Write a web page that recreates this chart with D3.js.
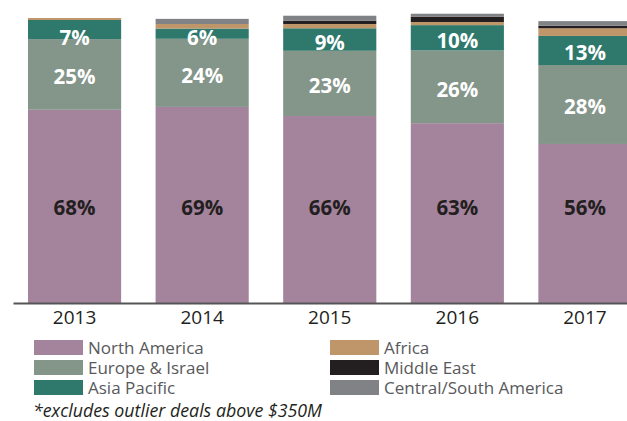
<!DOCTYPE html>
<html>
<head>
<meta charset="utf-8">
<script src="https://cdn.jsdelivr.net/npm/d3@7"></script>
<style>
  body { margin: 0; background: #fff; }
  svg { font-family: "Open Sans", sans-serif; display: block; }
</style>
</head>
<body>
<svg id="chart" width="627" height="421"></svg>
<script>
// years on the x axis
const years = ["2013", "2014", "2015", "2016", "2017"];

// share of deals by region (%)
const northAmerica = [67.8, 68.8, 65.6, 63.1, 55.8];
const europeIsrael = [24.8, 23.9, 22.9, 25.5, 27.7];
const asiaPacific = [6.7, 3.6, 7.9, 8.9, 10.2];
const africa = [0.7, 1.6, 1.5, 1.1, 2.7];
const middleEast = [0, 0, 1.1, 1.8, 0.9];
const centralSouthAmerica = [0, 1.8, 1.8, 1.1, 1.6];

// printed labels
const naLabels = ["68%", "69%", "66%", "63%", "56%"];
const euLabels = ["25%", "24%", "23%", "26%", "28%"];
const apLabels = ["7%", "6%", "9%", "10%", "13%"];

const regions = ["North America", "Europe & Israel", "Asia Pacific", "Africa", "Middle East", "Central/South America"];
const colors = ["#a4839c", "#84958a", "#2f786c", "#bf956a", "#231f20", "#818285"];

const svg = d3.select("#chart");
const baseY = 303;

const table = years.map((yr, i) => ({
  year: yr,
  "North America": northAmerica[i],
  "Europe & Israel": europeIsrael[i],
  "Asia Pacific": asiaPacific[i],
  "Africa": africa[i],
  "Middle East": middleEast[i],
  "Central/South America": centralSouthAmerica[i]
}));

const x = d3.scaleBand()
  .domain(years)
  .range([13, 646.5])
  .paddingInner(0.27)
  .paddingOuter(0.1175);

const y = d3.scaleLinear()
  .domain([0, 100])
  .range([baseY, baseY - 285]);

const color = d3.scaleOrdinal().domain(regions).range(colors);

const series = d3.stack().keys(regions)(table);

// bars
svg.append("g")
  .selectAll("g")
  .data(series)
  .join("g")
  .attr("fill", d => color(d.key))
  .selectAll("rect")
  .data(d => d)
  .join("rect")
  .attr("x", d => x(d.data.year))
  .attr("y", d => y(d[1]))
  .attr("width", x.bandwidth())
  .attr("height", d => y(d[0]) - y(d[1]));

// value labels (north america labels sit on one line)
const labelSets = [
  { key: "North America", text: naLabels, fill: "#231f20", fixed: true },
  { key: "Europe & Israel", text: euLabels, fill: "#fff" },
  { key: "Asia Pacific", text: apLabels, fill: "#fff" }
];
labelSets.forEach(set => {
  const s = series.find(d => d.key === set.key);
  svg.append("g")
    .selectAll("text")
    .data(s)
    .join("text")
    .attr("x", d => x(d.data.year) + x.bandwidth() / 2)
    .attr("y", d => set.fixed ? y(33.6) : Math.max((y(d[0]) + y(d[1])) / 2 + 2, y(100) + 19))
    .attr("text-anchor", "middle")
    .attr("dominant-baseline", "central")
    .attr("font-size", 20.5)
    .attr("font-weight", 700)
    .attr("fill", set.fill)
    .text((d, i) => set.text[i]);
});

// x axis
const axis = svg.append("g")
  .attr("transform", `translate(0,${baseY})`)
  .call(d3.axisBottom(x).tickSize(0).tickPadding(8));
axis.select(".domain").attr("stroke", "#555").attr("stroke-width", 2);
axis.selectAll("text")
  .attr("font-size", 19)
  .attr("font-family", "Open Sans, sans-serif")
  .attr("fill", "#231f20");

// legend
const legend = svg.append("g");
regions.forEach((r, i) => {
  const col = Math.floor(i / 3), row = i % 3;
  const lx = col === 0 ? 34 : 330;
  const ly = 340 + row * 20;
  legend.append("rect")
    .attr("x", lx).attr("y", ly)
    .attr("width", 49).attr("height", 15)
    .attr("fill", color(r));
  legend.append("text")
    .attr("x", lx + 54).attr("y", ly + 13.5)
    .attr("font-size", 17)
    .attr("fill", "#58595b")
    .text(r);
});

// footnote
svg.append("text")
  .attr("x", 33).attr("y", 417)
  .attr("font-size", 17.8)
  .attr("font-style", "italic")
  .attr("fill", "#231f20")
  .text("*excludes outlier deals above $350M");
</script>
</body>
</html>
